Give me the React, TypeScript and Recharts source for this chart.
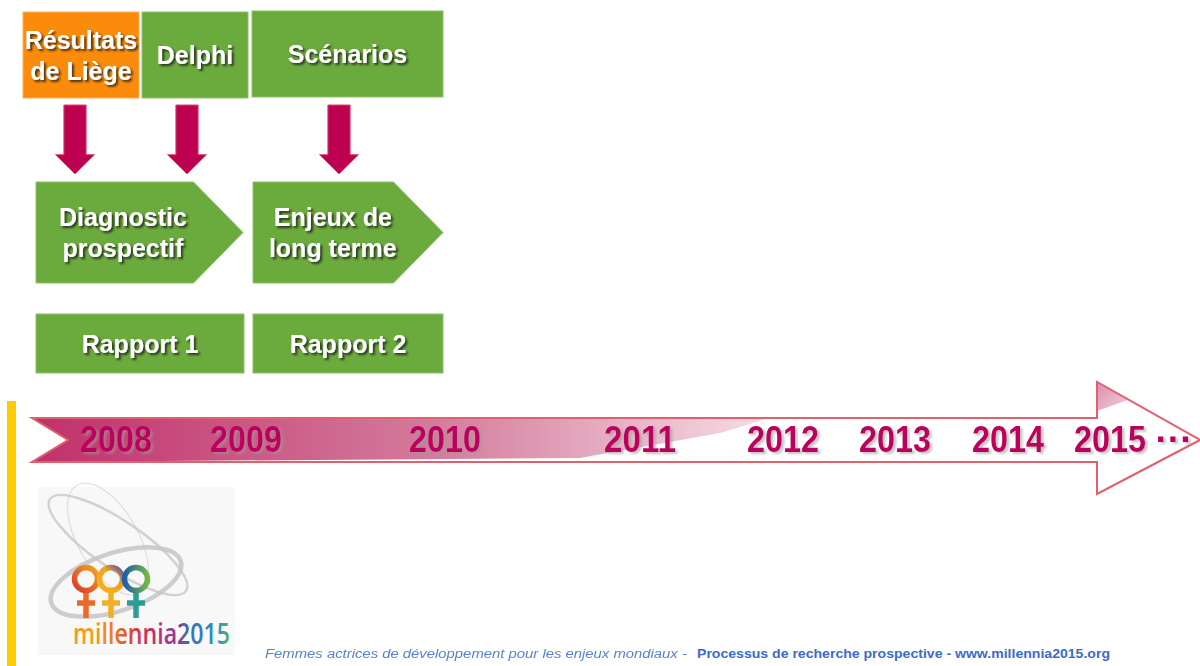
import React from "react";
import { ComposedChart, ReferenceArea, Scatter, XAxis, YAxis } from "recharts";

const W = 1200;
const H = 666;
const FONT = "'Liberation Sans', Arial, Helvetica, sans-serif";

// inputs that feed the reports
const sourceLabels = [["Résultats", "de Liège"], ["Delphi"], ["Scénarios"]];
const sourceColors = ["#FB8B0B", "#6BAA3C", "#6BAA3C"];
const sourceSpans = [[23, 139], [142, 248], [252, 443]];
const arrowCenters = [75, 187, 339];

// stages and reports
const stageLabels = [["Diagnostic", "prospectif"], ["Enjeux de", "long terme"]];
const reportLabels = ["Rapport 1", "Rapport 2"];
const stageSpans = [[36, 243], [253, 443]];

// timeline
const yearLabels = ["2008", "2009", "2010", "2011", "2012", "2013", "2014", "2015", "···"];
const yearPositions = [116, 246, 445, 640, 783, 895, 1008, 1110, 1174];

const footerLead = "Femmes actrices de développement pour les enjeux mondiaux - ";
const footerTail = "Processus de recherche prospective - www.millennia2015.org";

const yearMarks = yearLabels.map((label, i) => ({ x: yearPositions[i], y: 440, label }));

function Label({ cx, cy, lines, size = 25, gap = 31 }: any) {
  const top = cy - ((lines.length - 1) * gap) / 2;
  return (
    <g filter="url(#txtShadow)">
      {lines.map((s: string, i: number) => (
        <text
          key={i}
          x={cx}
          y={top + i * gap + size * 0.36}
          textAnchor="middle"
          fontFamily={FONT}
          fontWeight="bold"
          fontSize={size}
          fill="#fff"
        >
          {s}
        </text>
      ))}
    </g>
  );
}

const boxShape = (lines: string[], fill: string, edge: string) => (p: any) => (
  <g>
    <rect x={p.x} y={p.y} width={p.width} height={p.height} fill={fill} stroke={edge} strokeWidth={1} />
    <Label cx={p.x + p.width / 2} cy={p.y + p.height / 2} lines={lines} />
  </g>
);

const pentagonShape = (lines: string[]) => (p: any) => {
  const { x, y, width: w, height: h } = p;
  const tip = h * 0.49;
  const pts = `${x},${y} ${x + w - tip},${y} ${x + w},${y + h / 2} ${x + w - tip},${y + h} ${x},${y + h}`;
  return (
    <g>
      <polygon points={pts} fill="#6BAA3C" stroke="#8CC264" strokeWidth={1} />
      <Label cx={x + w * 0.42} cy={y + h / 2} lines={lines} />
    </g>
  );
};

const downArrow = (p: any) => {
  const { x, y, width: w, height: h } = p;
  const cx = x + w / 2;
  const half = (w * 0.57) / 2;
  const ht = y + h * 0.72;
  const pts = `${cx - half},${y} ${cx + half},${y} ${cx + half},${ht} ${x + w},${ht} ${cx},${y + h} ${x},${ht} ${cx - half},${ht}`;
  return <polygon points={pts} fill="#BE0050" stroke="#D8486E" strokeWidth={1} />;
};

const timelineShape = (p: any) => {
  const x0 = 32, x1 = 1200, y0 = 382, y1 = 494;
  const sx = (v: number) => p.x + ((v - x0) / (x1 - x0)) * p.width;
  const sy = (v: number) => p.y + ((v - y0) / (y1 - y0)) * p.height;
  const poly = (a: number[][]) => a.map(([u, v]) => `${sx(u)},${sy(v)}`).join(" ");
  const outline = poly([
    [32, 418], [1097, 418], [1097, 382], [1200, 440], [1097, 494], [1097, 462], [32, 462], [68, 440],
  ]);
  const band = poly([[32, 418], [770, 418], [720, 433], [580, 458], [32, 462], [68, 440]]);
  const corner = poly([[1097, 383], [1128, 400], [1097, 411]]);
  return (
    <g>
      <defs>
        <linearGradient id="tlGrad" gradientUnits="userSpaceOnUse" x1={sx(32)} y1={0} x2={sx(770)} y2={0}>
          <stop offset="0" stopColor="#C0306A" />
          <stop offset="0.55" stopColor="#D47C9C" />
          <stop offset="1" stopColor="#F6DDE6" />
        </linearGradient>
        <linearGradient id="cornerGrad" x1="0" y1="0" x2="1" y2="1">
          <stop offset="0" stopColor="#D98FAD" />
          <stop offset="1" stopColor="#F2D0DC" />
        </linearGradient>
        <filter id="txtShadow" x="-10%" y="-30%" width="130%" height="170%">
          <feDropShadow dx="2" dy="2" stdDeviation="1" floodColor="#1a1a1a" floodOpacity="0.8" />
        </filter>
        <filter id="yearShadow" x="-10%" y="-30%" width="130%" height="170%">
          <feDropShadow dx="2.5" dy="2" stdDeviation="1" floodColor="#999" floodOpacity="0.6" />
        </filter>
      </defs>
      <polygon points={outline} fill="#fff" />
      <polygon points={band} fill="url(#tlGrad)" />
      <polygon points={corner} fill="url(#cornerGrad)" />
      <polygon points={outline} fill="none" stroke="#E0606E" strokeWidth={2} />
    </g>
  );
};

const YearLabel = (p: any) => {
  const { cx, cy, payload } = p;
  const dots = payload.label === "···";
  return (
    <text
      x={cx}
      y={cy + 12}
      textAnchor="middle"
      fontFamily={FONT}
      fontWeight="bold"
      fontSize={37}
      fill="#BC005F"
      filter="url(#yearShadow)"
      {...(dots ? {} : { textLength: 72, lengthAdjust: "spacingAndGlyphs" })}
    >
      {payload.label}
    </text>
  );
};

const logoStops = [
  [0, "#F39A1E"], [0.14, "#F0A21E"], [0.26, "#E77A24"], [0.36, "#DC4A2A"], [0.46, "#CC3258"],
  [0.56, "#B8307C"], [0.68, "#8B3B8F"], [0.73, "#3D6DB5"], [0.86, "#2A86C2"], [0.93, "#2E9AB8"], [1, "#5BAE55"],
];

const logoShape = (p: any) => {
  const { x, y, width: w, height: h } = p;
  const symbols = [
    { cx: 48, ring: "url(#sym1)", cross: "#EA6A2A" },
    { cx: 73, ring: "url(#sym2)", cross: "#F2AE26" },
    { cx: 98, ring: "url(#sym3)", cross: "#2C9C96" },
  ];
  return (
    <g transform={`translate(${x},${y})`}>
      <defs>
        <linearGradient id="sym1" x1="0" y1="1" x2="1" y2="0">
          <stop offset="0" stopColor="#D63A2C" />
          <stop offset="1" stopColor="#F5A51F" />
        </linearGradient>
        <linearGradient id="sym2" x1="0" y1="1" x2="1" y2="0">
          <stop offset="0" stopColor="#F7B51E" />
          <stop offset="0.6" stopColor="#F0A020" />
          <stop offset="1" stopColor="#5A4FA8" />
        </linearGradient>
        <linearGradient id="sym3" x1="0" y1="0" x2="1" y2="0">
          <stop offset="0" stopColor="#1E5FAA" />
          <stop offset="1" stopColor="#72B842" />
        </linearGradient>
        <linearGradient id="logoText" gradientUnits="userSpaceOnUse" x1={35} y1={0} x2={192} y2={0}>
          {logoStops.map(([o, c], i) => (
            <stop key={i} offset={o as number} stopColor={c as string} />
          ))}
        </linearGradient>
      </defs>
      <rect x={0} y={0} width={w} height={h} fill="#F8F8F8" />
      <g fill="none" stroke="#C6C6C6">
        <ellipse cx={78} cy={95} rx={68} ry={29} transform="rotate(-18 78 95)" strokeWidth={4.5} opacity={0.85} />
        <ellipse cx={80} cy={58} rx={82} ry={24} transform="rotate(34 80 58)" strokeWidth={2.5} opacity={0.75} />
        <ellipse cx={70} cy={52} rx={30} ry={62} transform="rotate(-30 70 52)" strokeWidth={1.2} opacity={0.5} />
      </g>
      {symbols.map((s, i) => (
        <g key={i} strokeWidth={5.5} fill="none" strokeLinecap="butt">
          <line x1={s.cx} y1={104} x2={s.cx} y2={131} stroke={s.cross} />
          <line x1={s.cx - 9} y1={116} x2={s.cx + 9} y2={116} stroke={s.cross} />
          <circle cx={s.cx} cy={92} r={11.5} stroke={s.ring} />
        </g>
      ))}
      <text
        x={35}
        y={157}
        fontFamily="'Open Sans', 'Noto Sans', sans-serif"
        fontWeight={600}
        fontSize={29}
        fill="url(#logoText)"
        textLength={157}
        lengthAdjust="spacingAndGlyphs"
      >
        millennia2015
      </text>
    </g>
  );
};

const footerShape = (p: any) => (
  <text x={p.x} y={p.y + p.height} fontFamily={FONT} fontSize={12} fill="#3A6CC8">
    <tspan textLength={426} lengthAdjust="spacingAndGlyphs" fontStyle="italic" opacity={0.85}>{footerLead}</tspan>
    <tspan x={p.x + 432} textLength={413} lengthAdjust="spacingAndGlyphs" fontWeight="bold">{footerTail}</tspan>
  </text>
);

export default function App() {
  return (
    <div style={{ position: "absolute", left: 0, top: 0, background: "#fff" }}>
      <ComposedChart width={W} height={H} margin={{ top: 0, right: 0, bottom: 0, left: 0 }} accessibilityLayer={false}>
        <XAxis type="number" dataKey="x" domain={[0, W]} allowDataOverflow hide />
        <YAxis type="number" dataKey="y" domain={[0, H]} allowDataOverflow reversed hide />

        <ReferenceArea x1={7} x2={16} y1={401} y2={H} fill="#FFCC00" fillOpacity={1} ifOverflow="visible" />

        {sourceLabels.map((lines, i) => (
          <ReferenceArea
            key={`src-${i}`}
            x1={sourceSpans[i][0]}
            x2={sourceSpans[i][1]}
            y1={i === 2 ? 11 : 12}
            y2={i === 2 ? 97 : 98}
            ifOverflow="visible"
            shape={boxShape(lines, sourceColors[i], i === 0 ? "#FFAE55" : "#8CC264")}
          />
        ))}

        {arrowCenters.map((c, i) => (
          <ReferenceArea key={`arr-${i}`} x1={c - 19.5} x2={c + 19.5} y1={105} y2={174} ifOverflow="visible" shape={downArrow} />
        ))}

        {stageLabels.map((lines, i) => (
          <ReferenceArea
            key={`stage-${i}`}
            x1={stageSpans[i][0]}
            x2={stageSpans[i][1]}
            y1={182}
            y2={283}
            ifOverflow="visible"
            shape={pentagonShape(lines)}
          />
        ))}

        {reportLabels.map((label, i) => (
          <ReferenceArea
            key={`rep-${i}`}
            x1={stageSpans[i][0]}
            x2={stageSpans[i][1] + (i === 0 ? 1 : 0)}
            y1={314}
            y2={373}
            ifOverflow="visible"
            shape={boxShape([label], "#6BAA3C", "#8CC264")}
          />
        ))}

        <ReferenceArea x1={32} x2={1200} y1={382} y2={494} ifOverflow="visible" shape={timelineShape} />
        <ReferenceArea x1={38} x2={235} y1={487} y2={655} ifOverflow="visible" shape={logoShape} />
        <ReferenceArea x1={265} x2={1110} y1={646} y2={658} ifOverflow="visible" shape={footerShape} />

        <Scatter data={yearMarks} dataKey="y" shape={YearLabel} isAnimationActive={false} />
      </ComposedChart>
    </div>
  );
}
